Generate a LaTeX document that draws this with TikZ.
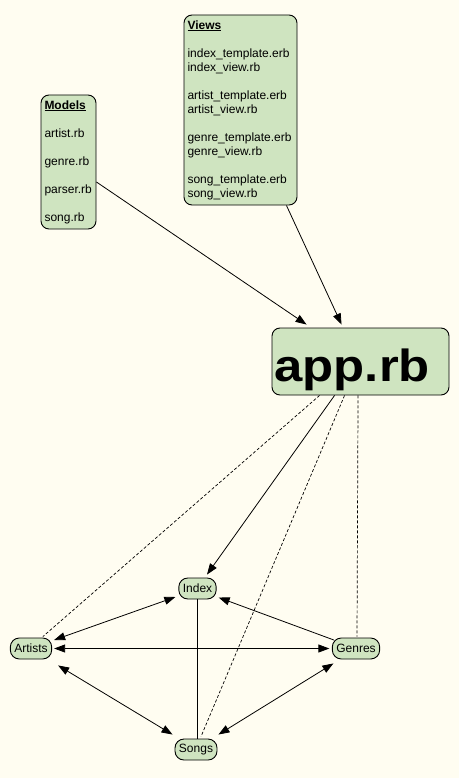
\documentclass[tikz,border=0pt]{standalone}
\usepackage{fontspec}
\usepackage{graphicx}
\setmainfont{Liberation Sans}
\usetikzlibrary{arrows.meta}

\definecolor{paper}{RGB}{255,253,241}
\definecolor{leaf}{RGB}{207,228,192}

\tikzset{
  box/.style={draw=black, fill=leaf, line width=0.9pt, rounded corners=8pt,
    font=\fontsize{12}{14}\selectfont},
  filebox/.style={box, align=left, inner xsep=3.5pt, inner ysep=0pt},
  pill/.style={box, rounded corners=9pt, inner xsep=4pt, inner ysep=0pt,
    minimum height=21pt},
  link/.style={line width=0.8pt, draw=black},
  tip/.style={Triangle[length=11pt,width=8pt]},
  arr/.style={link, -{Triangle[length=11pt,width=8pt]}},
  darr/.style={link, {Triangle[length=11pt,width=8pt]}-{Triangle[length=11pt,width=8pt]}},
  weak/.style={link, line width=0.7pt, dash pattern=on 3pt off 2pt}
}

\begin{document}
\begin{tikzpicture}[x=1pt, y=-1pt]
  \useasboundingbox (0,0) rectangle (459,778);
  \fill[paper] (0,0) rectangle (459,778);

  % source files
  \node[filebox, text width=106pt, minimum height=190pt] (views) at (240.5,110)
    {\textbf{\underline{Views}}\\[14pt]
     index\_template.erb\\ index\_view.rb\\[14pt]
     artist\_template.erb\\ artist\_view.rb\\[14pt]
     genre\_template.erb\\ genre\_view.rb\\[14pt]
     song\_template.erb\\ song\_view.rb};

  \node[filebox, text width=48pt, minimum height=134pt] (models) at (68.5,162)
    {\textbf{\underline{Models}}\\[14pt]
     artist.rb\\[14pt] genre.rb\\[14pt] parser.rb\\[14pt] song.rb};

  % application entry point
  \node[box, minimum width=177pt, minimum height=67pt, text width=172pt,
        align=left, inner xsep=2.5pt, inner ysep=0pt,
        text height=50pt, text depth=9.5pt,
        font=\bfseries\fontsize{45}{50}\selectfont] (app) at (360.5,361.5)
    {\scalebox{1.13}[1]{app.rb}};

  % pages
  \node[pill] (index)   at (197.5,588.5) {Index};
  \node[pill] (artists) at (31,648.5)    {Artists};
  \node[pill] (genres)  at (356,648.5)   {Genres};
  \node[pill] (songs)   at (196,749.5)   {Songs};

  % files feeding the app
  \draw[arr] ([yshift=-20pt]models.east) -- ([xshift=35pt,yshift=3pt]app.north west);
  \draw[arr] ([xshift=-11pt]views.south east) -- ([xshift=70pt,yshift=3pt]app.north west);

  % app to pages
  \draw[arr] ([xshift=63pt]app.south west) -- ([xshift=9.5pt,yshift=3pt]index.north);
  \draw[weak] ([xshift=48pt]app.south west) -- ([xshift=33pt,yshift=1pt]artists.north west);
  \draw[weak] ([xshift=73pt]app.south west) -- ([xshift=5pt,yshift=2pt]songs.north);
  \draw[weak] ([xshift=86.5pt]app.south west) -- ([xshift=1pt,yshift=1pt]genres.north);

  % navigation between pages
  \draw[darr] ([xshift=2pt,yshift=8.5pt]artists.east) -- ([xshift=-3pt,yshift=-8.5pt]index.west);
  \draw[arr] ([xshift=2pt,yshift=8.5pt]genres.west) -- ([xshift=2pt,yshift=-9pt]index.east);
  \draw[darr] ([xshift=2pt]artists.east) -- ([xshift=-2.5pt]genres.west);
  \draw[link] (index.south) -- (index.south |- songs.north);
  \draw[darr] ([xshift=6pt,yshift=-6pt]artists.south east) -- ([xshift=-2pt,yshift=4pt]songs.north west);
  \draw[darr] ([xshift=1.5pt,yshift=-4pt]genres.south west) -- ([xshift=1pt,yshift=4pt]songs.north east);
\end{tikzpicture}
\end{document}
